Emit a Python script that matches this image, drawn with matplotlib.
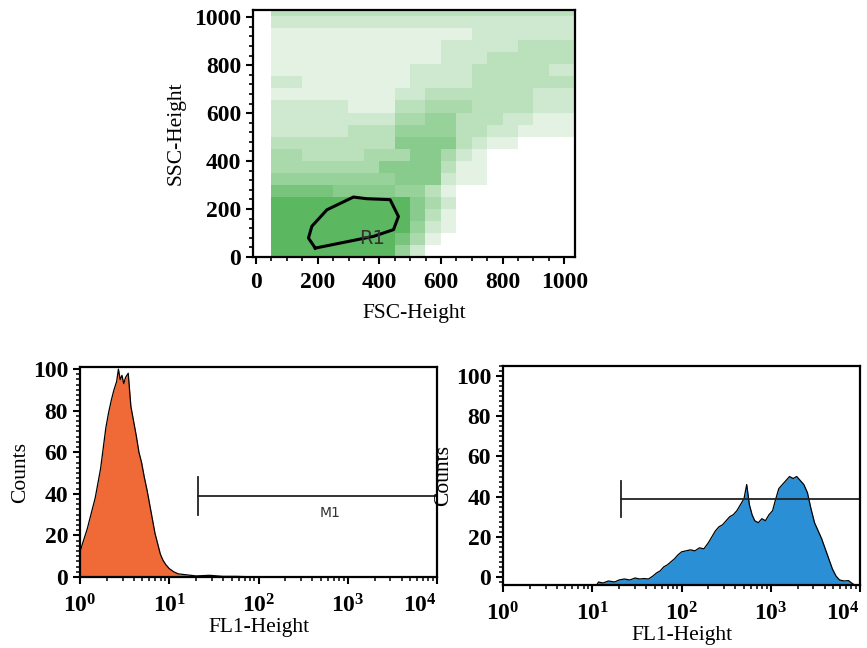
import matplotlib
matplotlib.use('Agg')
import matplotlib.pyplot as plt
from matplotlib.colors import LinearSegmentedColormap
from matplotlib.ticker import MultipleLocator, FixedLocator, LogLocator, NullFormatter
import numpy as np

plt.rcParams['mathtext.fontset'] = 'custom'
plt.rcParams['mathtext.rm'] = 'Liberation Serif'
plt.rcParams['mathtext.bf'] = 'Liberation Serif:bold'

# FSC/SSC density, 50-unit cells, rows from SSC 1000-1050 (top) down to 0-50,
# columns FSC 0-50 ... 1000-1050, level 0 (empty) .. 9 (solid)
ssc_fsc_density = [
    "033333333333333333333",
    "022222222222222222222",
    "011111111111112222222",
    "011111111111222223333",
    "011111111111222333333",
    "011111111122223333322",
    "022111111122223333333",
    "011111111223333333222",
    "022222111334443333222",
    "022222222445533322111",
    "022222333555533221111",
    "033333333666632110000",
    "044333344466421000000",
    "044444446666311000000",
    "055555555666211000000",
    "077776666553100000000",
    "099999999964200000000",
    "099999999963100000000",
    "099999999952100000000",
    "099999999741000000000",
    "099999999520000000000",
]

# gate R1 (FSC, SSC)
gate_fsc = [192, 170, 181, 230, 316, 359, 435, 462, 446, 381, 273, 192]
gate_ssc = [37, 79, 128, 197, 250, 243, 239, 169, 114, 86, 58, 37]

# histogram, unstained (orange)
fl1_a = [1.00, 1.047, 1.122, 1.202, 1.288, 1.380, 1.479, 1.585, 1.698, 1.820,
         1.950, 2.089, 2.239, 2.399, 2.570, 2.692, 2.818, 2.951, 3.090, 3.236,
         3.467, 3.715, 3.981, 4.266, 4.571, 4.898, 5.248, 5.623, 6.026, 6.457,
         6.918, 7.413, 7.943, 8.511, 9.120, 10.0, 11.22, 12.59, 15.85, 19.95,
         28.18, 39.81, 56.23, 100, 10000]
counts_a = [12, 15, 19, 23, 28, 33, 38, 45, 52, 62,
            72, 79, 85, 90, 94, 100, 95, 97, 93, 96,
            98, 82, 75, 68, 60, 55, 48, 42, 35, 28,
            21, 16, 11, 8, 6, 4, 2.5, 1.5, 1, 0.5,
            0.8, 0.3, 0.3, 0, 0]

# histogram, stained (blue)
fl1_b = [11.22, 11.75, 13.18, 15.14, 17.78, 19.95, 22.91, 26.30, 30.20, 33.88,
         38.02, 42.66, 47.86, 52.48, 57.54, 63.10, 69.18, 75.86, 83.18, 91.20,
         100, 112.2, 125.9, 141.3, 158.5, 177.8, 199.5, 218.8, 239.9, 263.0,
         288.4, 316.2, 346.7, 380.2, 416.9, 457.1, 501.2, 537.0, 575.4, 616.6,
         660.7, 724.4, 794.3, 871.0, 955.0, 1047, 1122, 1230, 1349, 1479,
         1622, 1778, 1950, 2138, 2344, 2570, 2818, 3090, 3388, 3715,
         4074, 4467, 4898, 5370, 5888, 6607, 7413, 8318, 8913]
counts_b = [-4, -2.5, -3, -2, -2.5, -1.5, -1, -1.5, -0.5, -1,
            -0.8, -1, 0.5, 2, 3, 5, 6, 7.5, 9, 11,
            12.5, 13, 13.5, 13, 14.5, 14, 17, 20, 23, 25,
            26, 28, 30, 31, 33, 36, 39, 46, 36, 31,
            28, 27, 29, 28, 31, 33, 38, 44, 46, 48,
            50, 49, 50, 48, 46, 42, 34, 27, 23, 19,
            14, 9, 4, 0.5, -1.5, -2, -1.8, -3.5, -4]

m1_start = 21
m1_level = 39

decade_ticks = [1, 10, 100, 1000, 10000]
decade_labels = [r'$\mathbf{10^{0}}$', r'$\mathbf{10^{1}}$', r'$\mathbf{10^{2}}$',
                 r'$\mathbf{10^{3}}$', r'$\mathbf{10^{4}}$']

serif = ['Liberation Serif', 'DejaVu Serif']
tick_font = dict(family=serif, weight='bold', size=17)
label_font = dict(family=serif, size=15.5)

fig = plt.figure(figsize=(8.67, 6.48), dpi=100)

# ---- top: FSC vs SSC ----
ax = fig.add_axes([0.2918, 0.6034, 0.3714, 0.3812])
green = LinearSegmentedColormap.from_list('g', ['white', '#5cb860'], gamma=0.8)
dens = np.array([[int(c) for c in row] for row in ssc_fsc_density])
ax.imshow(dens, extent=(0, 1050, 0, 1050), origin='upper', cmap=green,
          vmin=0, vmax=9, interpolation='nearest', aspect='auto')
ax.plot(gate_fsc, gate_ssc, color='black', lw=2.2)
ax.text(335, 55, 'R1', fontsize=14, color='#333333', family='DejaVu Sans')
ax.set_xlim(-10, 1035)
ax.set_ylim(0, 1030)
ax.set_xticks([0, 200, 400, 600, 800, 1000])
ax.set_yticks([0, 200, 400, 600, 800, 1000])
ax.xaxis.set_minor_locator(MultipleLocator(50))
ax.yaxis.set_minor_locator(MultipleLocator(40))
ax.tick_params(which='major', direction='out', length=5, width=1.5)
ax.tick_params(axis='x', which='major', pad=6)
ax.tick_params(which='minor', direction='out', length=3, width=1.2)
for lab in ax.get_xticklabels() + ax.get_yticklabels():
    lab.set(**tick_font)
ax.set_xlabel('FSC-Height', labelpad=8, **label_font)
ax.set_ylabel('SSC-Height', labelpad=6, **label_font)
for s in ax.spines.values():
    s.set_linewidth(1.6)


def hist_panel(rect, x, y, color, ymin, label_m1):
    a = fig.add_axes(rect)
    a.fill_between(x, y, ymin, color=color, lw=0)
    a.plot(x, y, color='black', lw=0.9)
    a.set_xscale('log')
    a.set_xlim(1, 10000)
    a.set_ylim(ymin, 101 if ymin == 0 else 105)
    a.plot([m1_start, 10000], [m1_level, m1_level], color='#222222', lw=1.3)
    a.plot([m1_start, m1_start], [m1_level - 9, m1_level + 9], color='#222222', lw=1.3)
    if label_m1:
        a.text(630, m1_level - 8, 'M1', fontsize=10, color='#333333',
               family='DejaVu Sans', ha='center', va='center')
    a.xaxis.set_major_locator(FixedLocator(decade_ticks))
    a.set_xticklabels(decade_labels, fontsize=17)
    a.get_xticklabels()[-1].set_ha('right')
    a.xaxis.set_minor_locator(LogLocator(base=10, subs=np.arange(2, 10)))
    a.xaxis.set_minor_formatter(NullFormatter())
    a.set_yticks([0, 20, 40, 60, 80, 100])
    a.yaxis.set_minor_locator(MultipleLocator(2.5))
    a.tick_params(which='major', direction='out', length=5, width=1.5)
    a.tick_params(axis='x', which='major', pad=7)
    a.tick_params(which='minor', direction='out', length=3, width=1.1)
    for lab in a.get_yticklabels():
        lab.set(**tick_font)
    a.set_xlabel('FL1-Height', labelpad=0, **label_font)
    a.set_ylabel('Counts', labelpad=2, **label_font)
    for s in a.spines.values():
        s.set_linewidth(1.6)
    return a


hist_panel([0.0923, 0.1096, 0.4118, 0.324], fl1_a, counts_a, '#f06a38', 0, True)
hist_panel([0.5802, 0.0972, 0.4118, 0.338], fl1_b, counts_b, '#2a8fd4', -4, False)

fig.savefig('out.png', dpi=100)
